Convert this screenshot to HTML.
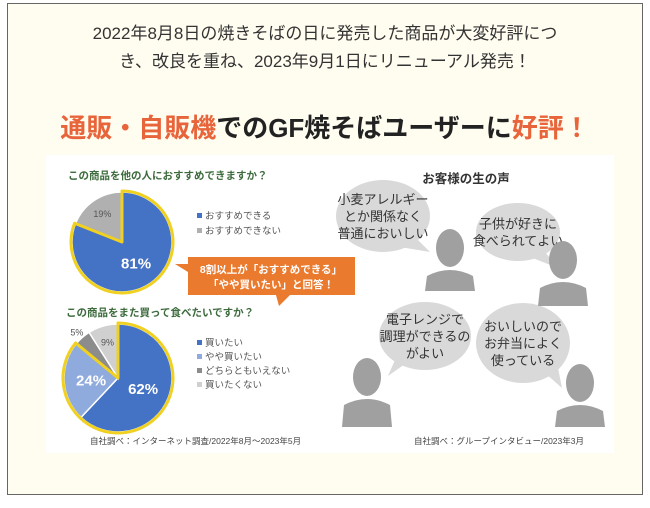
<!DOCTYPE html>
<html><head><meta charset="utf-8"><style>
body{margin:0;width:650px;height:503px;background:#fff;overflow:hidden;font-family:"Liberation Sans","Noto Sans CJK JP",sans-serif}
</style></head><body>
<svg id="s" width="650" height="503" xmlns="http://www.w3.org/2000/svg" style="font-family:'Liberation Sans','Noto Sans CJK JP',sans-serif">
<rect x="7.5" y="3.5" width="635" height="491" fill="#fffdf0" stroke="#666" stroke-width="1"/>
<text x="325" y="39" font-size="17" fill="#333" text-anchor="middle">2022年8月8日の焼きそばの日に発売した商品が大変好評につ</text>
<text x="325" y="67" font-size="17" fill="#333" text-anchor="middle">き、改良を重ね、2023年9月1日にリニューアル発売！</text>
<text x="325" y="137" font-size="26" font-weight="bold" text-anchor="middle"><tspan fill="#e8643a">通販・自販機</tspan><tspan fill="#222">でのGF焼そばユーザーに</tspan><tspan fill="#e8643a">好評！</tspan></text>
<rect x="46" y="155" width="568" height="298" fill="#fff"/>
<text x="68" y="179" font-size="10.5" font-weight="bold" fill="#3d6b3d">この商品を他の人におすすめできますか？</text>
<text x="66" y="316" font-size="10.5" font-weight="bold" fill="#3d6b3d">この商品をまた買って食べたいですか？</text>
<g id="pie1"></g><g id="pie2"></g><g id="leg"></g>
<g>
<path d="M188,257 H355 V295 H290 L279,306 L276,295 H188 V272 L175,264 L188,264 Z" fill="#e97a2e"/>
<text x="271" y="273" font-size="10.5" font-weight="bold" fill="#fff" text-anchor="middle">8割以上が「おすすめできる」</text>
<text x="271" y="288" font-size="10.5" font-weight="bold" fill="#fff" text-anchor="middle">「やや買いたい」と回答！</text>
</g>
<text x="90" y="444" font-size="8.5" fill="#444">自社調べ：インターネット調査/2022年8月～2023年5月</text>
<text x="466" y="183" font-size="12.5" font-weight="bold" fill="#333" text-anchor="middle">お客様の生の声</text>
<g id="voices" fill="#a0a0a0"></g>
<text x="414" y="444" font-size="8.5" fill="#444">自社調べ：グループインタビュー/2023年3月</text>
</svg>
<script>
const NS='http://www.w3.org/2000/svg';
const pie1Labels=['おすすめできる','おすすめできない'];
const pie1Values=[81,19];
const pie1Colors=['#4472c4','#b0b0b0'];
const pie2Labels=['買いたい','やや買いたい','どちらともいえない','買いたくない'];
const pie2Values=[62,24,5,9];
const pie2Colors=['#4472c4','#8faadc','#8c8c8c','#d0d0d0'];
function el(t,a,p){const e=document.createElementNS(NS,t);for(const k in a)e.setAttribute(k,a[k]);p.appendChild(e);return e;}
function pt(cx,cy,r,f){const a=f*2*Math.PI;return [cx+r*Math.sin(a),cy-r*Math.cos(a)];}
function arc(cx,cy,r,f0,f1){const [x0,y0]=pt(cx,cy,r,f0),[x1,y1]=pt(cx,cy,r,f1);return `M${cx},${cy} L${x0},${y0} A${r},${r} 0 ${f1-f0>0.5?1:0} 1 ${x1},${y1} Z`;}
function pie(g,cx,cy,r,vals,cols,labels,hl,textCol,fs){
  const tot=vals.reduce((a,b)=>a+b,0);let c=0;
  vals.forEach((v,i)=>{const f0=c/tot,f1=(c+v)/tot;c+=v;
    const p=el('path',{d:arc(cx,cy,r,f0,f1),fill:cols[i],stroke:'#fff','stroke-width':1.5},g);
    
    
    const big=v>=20;const [tx,ty]=pt(cx,cy,big?r*0.5:(v<7?r*1.15:r*0.7),(f0+f1)/2);
    const t=el('text',{x:tx,y:ty+(big?6:4),'font-size':big?fs:9,'font-weight':big?'bold':'normal',fill:big?'#fff':'#555','text-anchor':'middle'},g);
    t.textContent=v+'%';
    
    
  });
  const hf=vals.slice(0,hl).reduce((a,b)=>a+b,0)/tot;
  const o=el('path',{d:arc(cx,cy,r+1,0,hf),fill:'none',stroke:'#f0d020','stroke-width':3,'stroke-linejoin':'round'},g);
  
  
}
pie(document.getElementById('pie1'),122,242,50,pie1Values,pie1Colors,pie1Labels,1,'#fff',15);
pie(document.getElementById('pie2'),118,378,54,pie2Values,pie2Colors,pie2Labels,2,'#fff',15);
const lg=document.getElementById('leg');
function legend(labels,cols,x,y,dy){labels.forEach((l,i)=>{
  const r=el('rect',{x:x,y:y+i*dy-6,width:5,height:5,fill:cols[i]},lg);
  
  
  const t=el('text',{x:x+8,y:y+i*dy,'font-size':9.5,fill:'#555'},lg);t.textContent=l;
  
  
});}
legend(pie1Labels,pie1Colors,197,219,15);
legend(pie2Labels,pie2Colors,197,346,14);
const vg=document.getElementById('voices');
const bubbles=[
 {cx:383,cy:216,rx:47,ry:36,tail:'M400,247 L430,252 L418,240',lines:['小麦アレルギー','とか関係なく','普通においしい']},
 {cx:518,cy:232,rx:42,ry:29,tail:'M530,257 L558,268 L545,252',lines:['子供が好きに','食べられてよい']},
 {cx:425,cy:336,rx:46,ry:34,tail:'M405,364 L388,376 L395,360',lines:['電子レンジで','調理ができるの','がよい']},
 {cx:523,cy:343,rx:47,ry:40,tail:'M545,373 L562,388 L558,368',lines:['おいしいので','お弁当によく','使っている']}];
bubbles.forEach(b=>{
 const g=el('g',{},vg);
 
 
 el('ellipse',{cx:b.cx,cy:b.cy,rx:b.rx,ry:b.ry,fill:'#d9d9d9'},g);
 el('path',{d:b.tail,fill:'#d9d9d9'},g);
 b.lines.forEach((l,i)=>{const t=el('text',{x:b.cx,y:b.cy-(b.lines.length-1)*8.5+i*17+5,'font-size':13,fill:'#333','text-anchor':'middle'},g);t.textContent=l;});
});
const people=[[450,248,291],[563,260,306],[367,377,427],[580,383,427]];
people.forEach(([x,hy,b])=>{
 const g=el('g',{},vg);
 
 
 el('ellipse',{cx:x,cy:hy,rx:14,ry:19,fill:'#a0a0a0'},g);
 const t=hy+20;
 el('path',{d:`M${x-25},${b} L${x-23},${t+8} Q${x},${t-4} ${x+23},${t+8} L${x+25},${b} Z`,fill:'#a0a0a0'},g);
});
</script>
</body></html>
